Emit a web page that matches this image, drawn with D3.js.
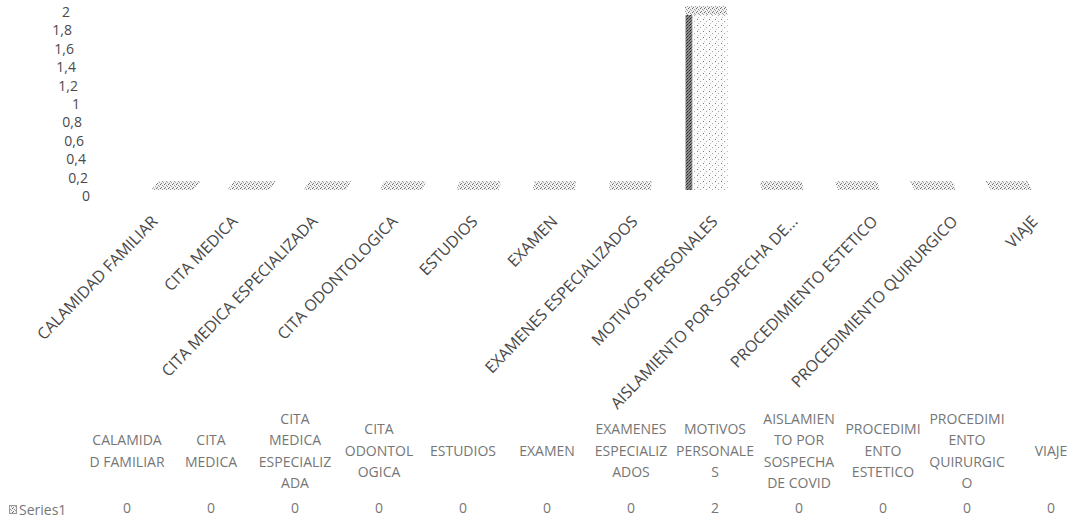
<!DOCTYPE html>
<html>
<head>
<meta charset="utf-8">
<script src="https://cdn.jsdelivr.net/npm/d3@7"></script>
<style>
  html, body { margin: 0; padding: 0; background: #fff; }
  svg { display: block; font-family: "Open Sans", sans-serif; }
</style>
</head>
<body>
<svg id="chart" width="1087" height="518"></svg>
<script>
// Reasons for absence and how many times each was recorded
const categories = [
  "CALAMIDAD FAMILIAR", "CITA MEDICA", "CITA MEDICA ESPECIALIZADA", "CITA ODONTOLOGICA",
  "ESTUDIOS", "EXAMEN", "EXAMENES ESPECIALIZADOS", "MOTIVOS PERSONALES",
  "AISLAMIENTO POR SOSPECHA DE COVID", "PROCEDIMIENTO ESTETICO", "PROCEDIMIENTO QUIRURGICO", "VIAJE"
];
const values = [0, 0, 0, 0, 0, 0, 0, 2, 0, 0, 0, 0];
const seriesName = "Series1";
const yTicks = [0, 0.2, 0.4, 0.6, 0.8, 1, 1.2, 1.4, 1.6, 1.8, 2];

// Column headings of the data table, wrapped as they appear in the cells
const tableHeaders = [
  ["CALAMIDA", "D FAMILIAR"], ["CITA", "MEDICA"], ["CITA", "MEDICA", "ESPECIALIZ", "ADA"],
  ["CITA", "ODONTOL", "OGICA"], ["ESTUDIOS"], ["EXAMEN"], ["EXAMENES", "ESPECIALIZ", "ADOS"],
  ["MOTIVOS", "PERSONALE", "S"], ["AISLAMIEN", "TO POR", "SOSPECHA", "DE COVID"],
  ["PROCEDIMI", "ENTO", "ESTETICO"], ["PROCEDIMI", "ENTO", "QUIRURGIC", "O"], ["VIAJE"]
];

const svg = d3.select("#chart");
const locale = d3.formatLocale({ decimal: ",", thousands: ".", grouping: [3], currency: ["$", ""] });
const fmt = locale.format(".1~f");

// Grainy fills for the column faces
const defs = svg.append("defs");
function speckle(id, size, base, dots) {
  const p = defs.append("pattern").attr("id", id).attr("patternUnits", "userSpaceOnUse")
    .attr("width", size).attr("height", size);
  p.append("rect").attr("width", size).attr("height", size).attr("fill", base);
  dots.forEach(([x, y, c]) => p.append("rect").attr("x", x).attr("y", y)
    .attr("width", 1).attr("height", 1).attr("fill", c));
}
speckle("front", 6, "#fbfbfb", [[1, 1, "#7a7a7a"], [4, 3, "#a8a8a8"], [2, 5, "#c4c4c4"]]);
speckle("side", 3, "#8c8c8c", [[0, 0, "#2a2a2a"], [2, 1, "#3a3a3a"], [1, 2, "#555"]]);
speckle("top", 4, "#f0f0f0", [[0, 0, "#6a6a6a"], [2, 1, "#929292"], [1, 3, "#7e7e7e"], [3, 2, "#a4a4a4"]]);

// Back-wall value axis
const yWall = d3.scaleLinear().domain([0, 2]).range([196, 12]);
const xWall = d3.scaleLinear().domain([0, 2]).range([90, 70]);
const yAxis = svg.append("g")
  .call(d3.axisLeft(yWall).tickValues(yTicks).tickFormat(fmt).tickSize(0).tickPadding(0));
yAxis.select(".domain").remove();
yAxis.selectAll(".tick")
  .attr("transform", d => `translate(${xWall(d)},${yWall(d)})`);
yAxis.selectAll(".tick text")
  .attr("font-family", "Open Sans, sans-serif").attr("font-size", 14)
  .attr("fill", "#4a4a4a").attr("dy", "0.35em");

// Columns in front of the wall
const x = d3.scaleBand().domain(categories).range([134, 1050]).paddingInner(0.45).paddingOuter(0.225);
const y = d3.scaleLinear().domain([0, 2]).range([190, 15]);
const sideW = 7, depth = 9, vanishX = 660, persp = 0.016;

const bars = svg.append("g").selectAll("g").data(categories).join("g");
bars.each(function (c, i) {
  const g = d3.select(this);
  const x0 = x(c), x1 = x(c) + x.bandwidth();
  const yv = y(values[i]), y0 = y(0);
  const shift = (vanishX - (x0 + x1) / 2) * persp;
  if (yv < y0) {
    g.append("rect").attr("x", x0).attr("y", yv).attr("width", sideW).attr("height", y0 - yv)
      .attr("fill", "url(#side)");
    g.append("rect").attr("x", x0 + sideW).attr("y", yv).attr("width", x1 - x0 - sideW)
      .attr("height", y0 - yv).attr("fill", "url(#front)");
  }
  g.append("polygon")
    .attr("points", [[x0, yv], [x1, yv], [x1 + shift, yv - depth], [x0 + shift, yv - depth]].join(" "))
    .attr("fill", "url(#top)");
});

// Category labels, slanted under the floor
const xLabel = d3.scaleBand().domain(categories).range([110, 1070]);
const shortName = s => s.length > 27 ? s.slice(0, 27) + "..." : s;
svg.append("g").selectAll("text").data(categories).join("text")
  .attr("transform", c => `translate(${xLabel(c) + xLabel.bandwidth() / 2},214) rotate(-46)`)
  .attr("text-anchor", "end").attr("dy", "0.75em")
  .attr("font-size", 16).attr("fill", "#4a4a4a")
  .text(shortName);

// Data table
const xTable = d3.scaleBand().domain(categories).range([85, 1093]);
const lineH = 21.5, headMid = 451, valueY = 508;
const heads = svg.append("g").selectAll("text").data(categories).join("text")
  .attr("text-anchor", "middle").attr("font-size", 14).attr("fill", "#767676");
heads.each(function (c, i) {
  const lines = tableHeaders[i];
  const top = headMid - (lines.length - 1) * lineH / 2;
  d3.select(this).selectAll("tspan").data(lines).join("tspan")
    .attr("x", xTable(c) + xTable.bandwidth() / 2)
    .attr("y", (d, k) => top + k * lineH)
    .attr("dy", "0.35em")
    .text(d => d);
});
svg.append("g").selectAll("text").data(categories).join("text")
  .attr("x", c => xTable(c) + xTable.bandwidth() / 2).attr("y", valueY).attr("dy", "0.35em")
  .attr("text-anchor", "middle").attr("font-size", 14).attr("fill", "#767676")
  .text((c, i) => fmt(values[i]));

// Series key and name
svg.append("rect").attr("x", 9.5).attr("y", 505.5).attr("width", 7).attr("height", 8)
  .attr("fill", "url(#top)").attr("stroke", "#999");
svg.append("text").attr("x", 19).attr("y", 510).attr("dy", "0.35em")
  .attr("font-size", 14).attr("fill", "#767676").text(seriesName);
</script>
</body>
</html>
